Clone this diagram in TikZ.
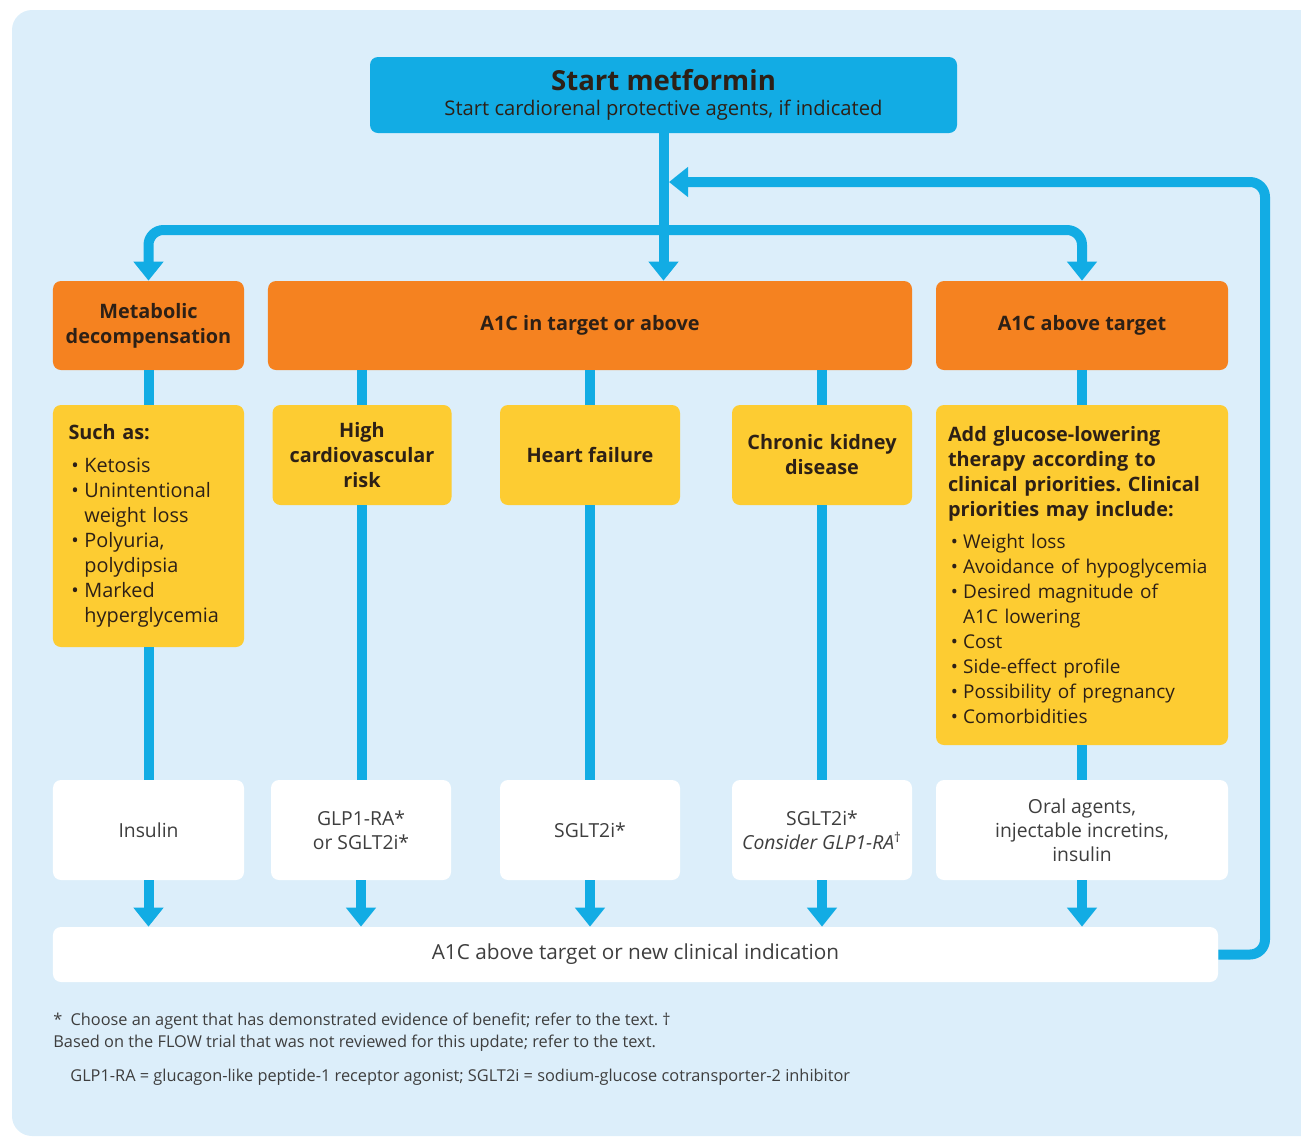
\documentclass[tikz,border=0pt]{standalone}
\usepackage{fontspec}
\setmainfont{Open Sans}
\usetikzlibrary{arrows.meta,positioning}
\definecolor{bgblue}{RGB}{220,238,250}
\definecolor{flowblue}{RGB}{18,172,228}
\definecolor{hdorange}{RGB}{245,130,32}
\definecolor{boxyellow}{RGB}{253,204,50}
\definecolor{txtdark}{RGB}{45,32,22}
\definecolor{txtgray}{RGB}{62,62,62}
\hyphenpenalty=10000
\exhyphenpenalty=10000
\frenchspacing
\newcommand{\itm}[1]{\par\hangindent=0.8em\hangafter=1\noindent\makebox[0.8em][l]{\hspace{0.15em}\textbullet}#1\par}
\tikzset{
  box/.style={rounded corners=1.6mm, inner sep=1mm, align=center},
  hdr/.style={box, fill=hdorange, text=txtdark, font=\fontsize{11.3}{14.2}\selectfont\bfseries, minimum height=17.8mm},
  cond/.style={box, fill=boxyellow, text=txtdark, font=\fontsize{11.3}{14.2}\selectfont\bfseries, minimum height=20mm},
  drug/.style={box, fill=white, text=txtgray, font=\fontsize{11}{13.8}\selectfont, minimum height=20mm},
  flow/.style={draw=flowblue, line width=2mm},
  flowarrow/.style={flow, -{Triangle[width=5.8mm,length=3.8mm]}},
  note/.style={anchor=west, inner sep=0pt, text=txtgray, font=\fontsize{9.3}{11}\selectfont}
}
\begin{document}
\begin{tikzpicture}[x=0.2mm,y=-0.2mm]
  \useasboundingbox (0,0) rectangle (1301,1137);
  \fill[bgblue, rounded corners=4mm] (12,10) rectangle (1340,1136);

  % first step
  \node[box, fill=flowblue, text=txtdark, minimum width=117.4mm, minimum height=15.2mm] (start) at (663.5,95)
    {{\fontsize{15.7}{18}\selectfont\bfseries Start metformin}\\[2pt]
     {\fontsize{11.5}{13}\selectfont Start cardiorenal protective agents, if indicated}};

  % headers
  \node[hdr, minimum width=38.2mm, text width=36mm] (metab) at (148.5,325.5) {Metabolic\\decompensation};
  \node[hdr, minimum width=128.8mm] (mid) at (590,325.5) {A1C in target or above};
  \node[hdr, minimum width=58.4mm] (above) at (1082,325.5) {A1C above target};

  % conditions
  \node[cond, minimum width=38.2mm, minimum height=48.4mm, text width=32mm, align=left] (such) at (148.5,526)
    {Such as:\\[4.5pt]\mdseries
     \itm{Ketosis}\itm{Unintentional\newline weight loss}\itm{Polyuria,\newline polydipsia}\itm{Marked\newline hyperglycemia}};
  \node[cond, minimum width=35.8mm, text width=33mm] (hcv) at (362,455) {High\\cardiovascular\\risk};
  \node[cond, minimum width=36mm] (hf) at (590,455) {Heart failure};
  \node[cond, minimum width=36mm, text width=33mm] (ckd) at (822,455) {Chronic kidney\\disease};
  \node[cond, minimum width=58.4mm, minimum height=68mm, text width=53.6mm, align=left] (add) at (1082,575)
    {Add glucose-lowering\\therapy according to\\clinical priorities. Clinical\\priorities may include:\\[4.5pt]\mdseries\fontsize{10.8}{14.2}\selectfont
     \itm{Weight loss}\itm{Avoidance of hypoglycemia}\itm{Desired magnitude of\newline A1C lowering}\itm{Cost}
     \itm{Side-effect profile}\itm{Possibility of pregnancy}\itm{Comorbidities}};

  % agents
  \node[drug, minimum width=38.2mm] (ins) at (148.5,830) {Insulin};
  \node[drug, minimum width=36mm] (glp) at (361,830) {GLP1-RA*\\or SGLT2i*};
  \node[drug, minimum width=36mm] (sglt) at (590,830) {SGLT2i*};
  \node[drug, minimum width=36mm] (sgltk) at (822,830) {SGLT2i*\\\textit{Consider GLP1-RA}\textsuperscript{\textdagger}};
  \node[drug, minimum width=58.4mm] (oral) at (1082,830) {Oral agents,\\injectable incretins,\\insulin};

  \node[box, fill=white, text=txtgray, font=\fontsize{11.8}{13}\selectfont, minimum width=233mm, minimum height=11mm] (redo) at (635.5,954.5)
    {A1C above target or new clinical indication};

  % connectors
  \coordinate (split) at (663,230);
  \coordinate (loop) at (1265,182);
  \coordinate (back) at (669,182);
  \draw[flowarrow] (start) -- (start |- mid.north);
  \draw[flowarrow, rounded corners=3mm] (split) -| (metab.north);
  \draw[flowarrow, rounded corners=3mm] (split) -| (above.north);
  \draw[flowarrow, rounded corners=3mm] (redo.east) -| (loop) -- (back);

  \path[flow]
    (metab) edge (such)
    (such) edge (ins)
    (mid.south -| hcv) edge (hcv)
    (hcv) edge (hcv |- glp.north)
    (mid.south -| hf) edge (hf)
    (hf) edge (sglt)
    (mid.south -| ckd) edge (ckd)
    (ckd) edge (sgltk)
    (above) edge (add)
    (add) edge (oral);

  \foreach \n in {ins,glp,sglt,sgltk,oral}
    \draw[flowarrow] (\n) -- (\n |- redo.north);

  % footnotes
  \node[note] (n1) at (53,1021) {*\enspace Choose an agent that has demonstrated evidence of benefit; refer to the text. \textdagger};
  \node[note] (n2) at (53,1043) {Based on the FLOW trial that was not reviewed for this update; refer to the text.};
  \node[note] (n3) at (70,1077) {GLP1-RA = glucagon-like peptide-1 receptor agonist; SGLT2i = sodium-glucose cotransporter-2 inhibitor};
\end{tikzpicture}
\end{document}
